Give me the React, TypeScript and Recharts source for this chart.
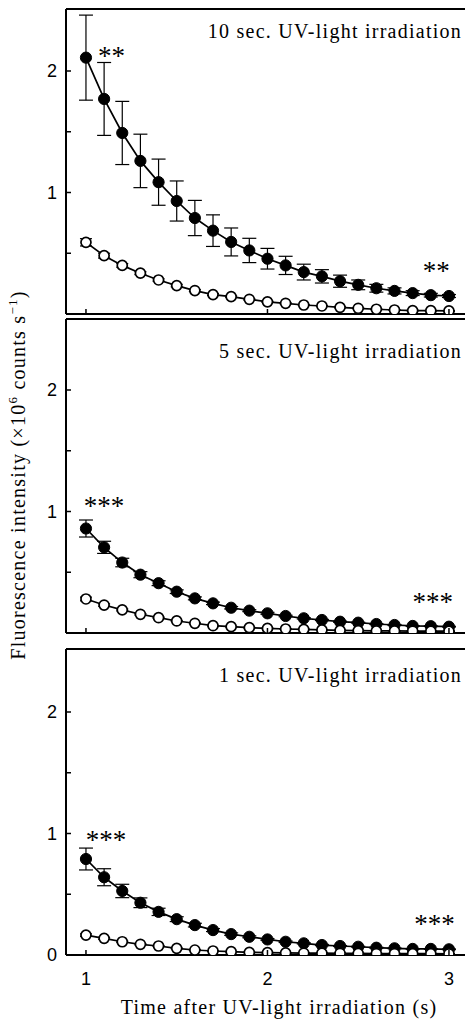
import React from "react"
import { LineChart, Line, XAxis, YAxis, ErrorBar, ReferenceLine, ReferenceDot } from "recharts"

// time after irradiation (s)
const times = [1.0, 1.1, 1.2, 1.3, 1.4, 1.5, 1.6, 1.7, 1.8, 1.9, 2.0, 2.1, 2.2, 2.3, 2.4, 2.5, 2.6, 2.7, 2.8, 2.9, 3.0]

// 10 sec. irradiation
const uv10Filled = [2.11, 1.77, 1.49, 1.26, 1.085, 0.93, 0.79, 0.686, 0.593, 0.523, 0.455, 0.4, 0.345, 0.31, 0.27, 0.24, 0.212, 0.19, 0.172, 0.155, 0.148]
const uv10FilledErr = [0.35, 0.3, 0.26, 0.22, 0.19, 0.165, 0.145, 0.13, 0.115, 0.1, 0.085, 0.075, 0.065, 0.055, 0.05, 0.04, 0.032, 0.025, 0.02, 0.015, 0.012]
const uv10Open = [0.59, 0.48, 0.4, 0.336, 0.28, 0.234, 0.193, 0.16, 0.143, 0.121, 0.1, 0.088, 0.074, 0.066, 0.055, 0.047, 0.039, 0.033, 0.028, 0.027, 0.025]
const uv10OpenErr = [0.03, 0.02, 0.015, 0.012, 0.01, 0.01, 0.008, 0.008, 0.006, 0.006, 0.005, 0.005, 0.004, 0.004, 0.004, 0.003, 0.003, 0.003, 0.003, 0.003, 0.003]

// 5 sec. irradiation
const uv5Filled = [0.86, 0.705, 0.58, 0.48, 0.41, 0.34, 0.285, 0.244, 0.208, 0.184, 0.162, 0.14, 0.121, 0.107, 0.093, 0.085, 0.074, 0.066, 0.058, 0.056, 0.052]
const uv5FilledErr = [0.07, 0.05, 0.035, 0.025, 0.02, 0.015, 0.012, 0.01, 0.01, 0.008, 0.008, 0.006, 0.006, 0.005, 0.005, 0.004, 0.004, 0.004, 0.003, 0.003, 0.003]
const uv5Open = [0.28, 0.23, 0.19, 0.154, 0.126, 0.099, 0.08, 0.06, 0.052, 0.044, 0.038, 0.033, 0.03, 0.025, 0.022, 0.02, 0.018, 0.017, 0.016, 0.015, 0.015]
const uv5OpenErr = [0.015, 0.01, 0.008, 0.006, 0.005, 0.004, 0.004, 0.003, 0.003, 0.003, 0.003, 0.002, 0.002, 0.002, 0.002, 0.002, 0.002, 0.002, 0.002, 0.002, 0.002]

// 1 sec. irradiation
const uv1Filled = [0.79, 0.64, 0.527, 0.43, 0.355, 0.295, 0.246, 0.205, 0.172, 0.15, 0.128, 0.109, 0.096, 0.082, 0.074, 0.068, 0.06, 0.055, 0.05, 0.05, 0.047]
const uv1FilledErr = [0.09, 0.07, 0.055, 0.04, 0.03, 0.02, 0.015, 0.012, 0.01, 0.008, 0.007, 0.006, 0.005, 0.005, 0.004, 0.004, 0.004, 0.003, 0.003, 0.003, 0.003]
const uv1Open = [0.164, 0.137, 0.109, 0.088, 0.074, 0.055, 0.041, 0.033, 0.027, 0.022, 0.02, 0.018, 0.016, 0.015, 0.014, 0.013, 0.012, 0.012, 0.011, 0.011, 0.01]
const uv1OpenErr = [0.01, 0.008, 0.006, 0.005, 0.004, 0.003, 0.003, 0.002, 0.002, 0.002, 0.002, 0.002, 0.002, 0.002, 0.002, 0.002, 0.002, 0.002, 0.002, 0.002, 0.002]

const xTicks = [1, 2, 3]
const yTicks = [0, 0.5, 1, 1.5, 2]

const SANS = "'Liberation Sans', Arial, sans-serif"
const SERIF = "'Liberation Serif', 'Times New Roman', serif"

const PLOT_LEFT = 66
const CHART_W = 485
const X_MAX = 0.89 + (CHART_W - PLOT_LEFT) / 181.5
const PX_PER_UNIT = 121.5

function rows(f: number[], fe: number[], o: number[], oe: number[]) {
  return times.map((t, i) => ({ t, f: f[i], fe: fe[i], o: o[i], oe: oe[i] }))
}

interface PanelProps {
  top: number
  plotH: number
  axisH: number
  title: string
  titleY: number
  data: ReturnType<typeof rows>
  stars: { x: number; y: number; text: string }[]
  showXLabels?: boolean
}

function Panel({ top, plotH, axisH, title, titleY, data, stars, showXLabels }: PanelProps) {
  const yMax = plotH / PX_PER_UNIT
  const height = plotH + axisH + 1
  const plotBottom = plotH + 1

  const YTick = (p: any) => {
    const v = p.payload.value
    return (
      <g>
        <line x1={PLOT_LEFT} x2={PLOT_LEFT + 5} y1={p.y} y2={p.y} stroke="#000" strokeWidth={1.5} />
        {Number.isInteger(v) && (
          <text x={PLOT_LEFT - 9} y={p.y} dy="0.36em" textAnchor="end" fontFamily={SANS} fontSize={18} fill="#000">
            {v}
          </text>
        )}
      </g>
    )
  }

  const XTick = (p: any) => (
    <g>
      <line x1={p.x} x2={p.x} y1={plotBottom} y2={plotBottom - 5} stroke="#000" strokeWidth={1.5} />
      {showXLabels && (
        <text x={p.x} y={plotBottom + 30} textAnchor="middle" fontFamily={SANS} fontSize={18} fill="#000">
          {p.payload.value}
        </text>
      )}
    </g>
  )

  return (
    <div style={{ position: "absolute", left: 0, top: top - 1 }}>
      <LineChart width={CHART_W} height={height} data={data} margin={{ top: 1, right: 0, left: 0, bottom: 0 }}>
        <XAxis
          type="number"
          dataKey="t"
          domain={[0.89, X_MAX]}
          ticks={xTicks}
          allowDataOverflow
          height={axisH}
          axisLine={{ stroke: "#000", strokeWidth: 2 }}
          tickLine={false}
          tick={XTick}
        />
        <YAxis
          type="number"
          domain={[0, yMax]}
          ticks={yTicks}
          allowDataOverflow
          width={PLOT_LEFT}
          axisLine={{ stroke: "#000", strokeWidth: 2 }}
          tickLine={false}
          tick={YTick}
        />
        <ReferenceLine y={yMax} stroke="#000" strokeWidth={2} />
        <Line
          dataKey="f"
          stroke="#000"
          strokeWidth={1.7}
          dot={{ r: 5.6, fill: "#000", stroke: "#000", strokeWidth: 1 }}
          isAnimationActive={false}
        >
          <ErrorBar dataKey="fe" width={7} stroke="#000" strokeWidth={1.2} />
        </Line>
        <Line
          dataKey="o"
          stroke="#000"
          strokeWidth={1.7}
          dot={{ r: 5, fill: "#fff", stroke: "#000", strokeWidth: 1.7 }}
          isAnimationActive={false}
        >
          <ErrorBar dataKey="oe" width={6} stroke="#000" strokeWidth={1.2} />
        </Line>
        {stars.map((s, i) => (
          <ReferenceDot
            key={i}
            x={s.x}
            y={s.y}
            r={0}
            shape={(p: any) => (
              <text x={p.cx} y={p.cy + 13} textAnchor="middle" fontFamily={SERIF} fontSize={27} fill="#000">
                {s.text}
              </text>
            )}
          />
        ))}
      </LineChart>
      <div
        style={{
          position: "absolute",
          left: 0,
          width: 462,
          textAlign: "right",
          top: titleY - 16,
          fontFamily: SERIF,
          fontSize: 20,
          lineHeight: "20px",
          letterSpacing: 1.25,
          whiteSpace: "nowrap",
          color: "#000",
        }}
      >
        {title}
      </div>
    </div>
  )
}

export default function App() {
  return (
    <div style={{ position: "absolute", left: 0, top: 0, width: 465, height: 1021, overflow: "hidden", background: "#fff" }}>
      <Panel
        top={9}
        plotH={305}
        axisH={3}
        title="10 sec. UV-light irradiation"
        titleY={29}
        data={rows(uv10Filled, uv10FilledErr, uv10Open, uv10OpenErr)}
        stars={[
          { x: 1.14, y: 2.16, text: "**" },
          { x: 2.93, y: 0.39, text: "**" },
        ]}
      />
      <Panel
        top={319}
        plotH={314}
        axisH={3}
        title="5 sec. UV-light irradiation"
        titleY={39}
        data={rows(uv5Filled, uv5FilledErr, uv5Open, uv5OpenErr)}
        stars={[
          { x: 1.1, y: 1.08, text: "***" },
          { x: 2.91, y: 0.29, text: "***" },
        ]}
      />
      <Panel
        top={649}
        plotH={306}
        axisH={66}
        title="1 sec. UV-light irradiation"
        titleY={33}
        data={rows(uv1Filled, uv1FilledErr, uv1Open, uv1OpenErr)}
        stars={[
          { x: 1.11, y: 0.98, text: "***" },
          { x: 2.92, y: 0.29, text: "***" },
        ]}
        showXLabels
      />
      <div
        style={{
          position: "absolute",
          left: 18 - 220,
          top: 475 - 12,
          width: 440,
          height: 24,
          lineHeight: "24px",
          textAlign: "center",
          transform: "rotate(-90deg)",
          fontFamily: SERIF,
          fontSize: 20,
          letterSpacing: 1.25,
          whiteSpace: "nowrap",
          color: "#000",
        }}
      >
        Fluorescence intensity (×10<sup style={{ fontSize: 13, lineHeight: 0 }}>6</sup> counts s<sup style={{ fontSize: 13, lineHeight: 0 }}>−1</sup>)
      </div>
      <div
        style={{
          position: "absolute",
          left: 279 - 200,
          top: 997,
          width: 400,
          textAlign: "center",
          fontFamily: SERIF,
          fontSize: 20,
          lineHeight: "20px",
          letterSpacing: 1.25,
          whiteSpace: "nowrap",
          color: "#000",
        }}
      >
        Time after UV-light irradiation (s)
      </div>
    </div>
  )
}
